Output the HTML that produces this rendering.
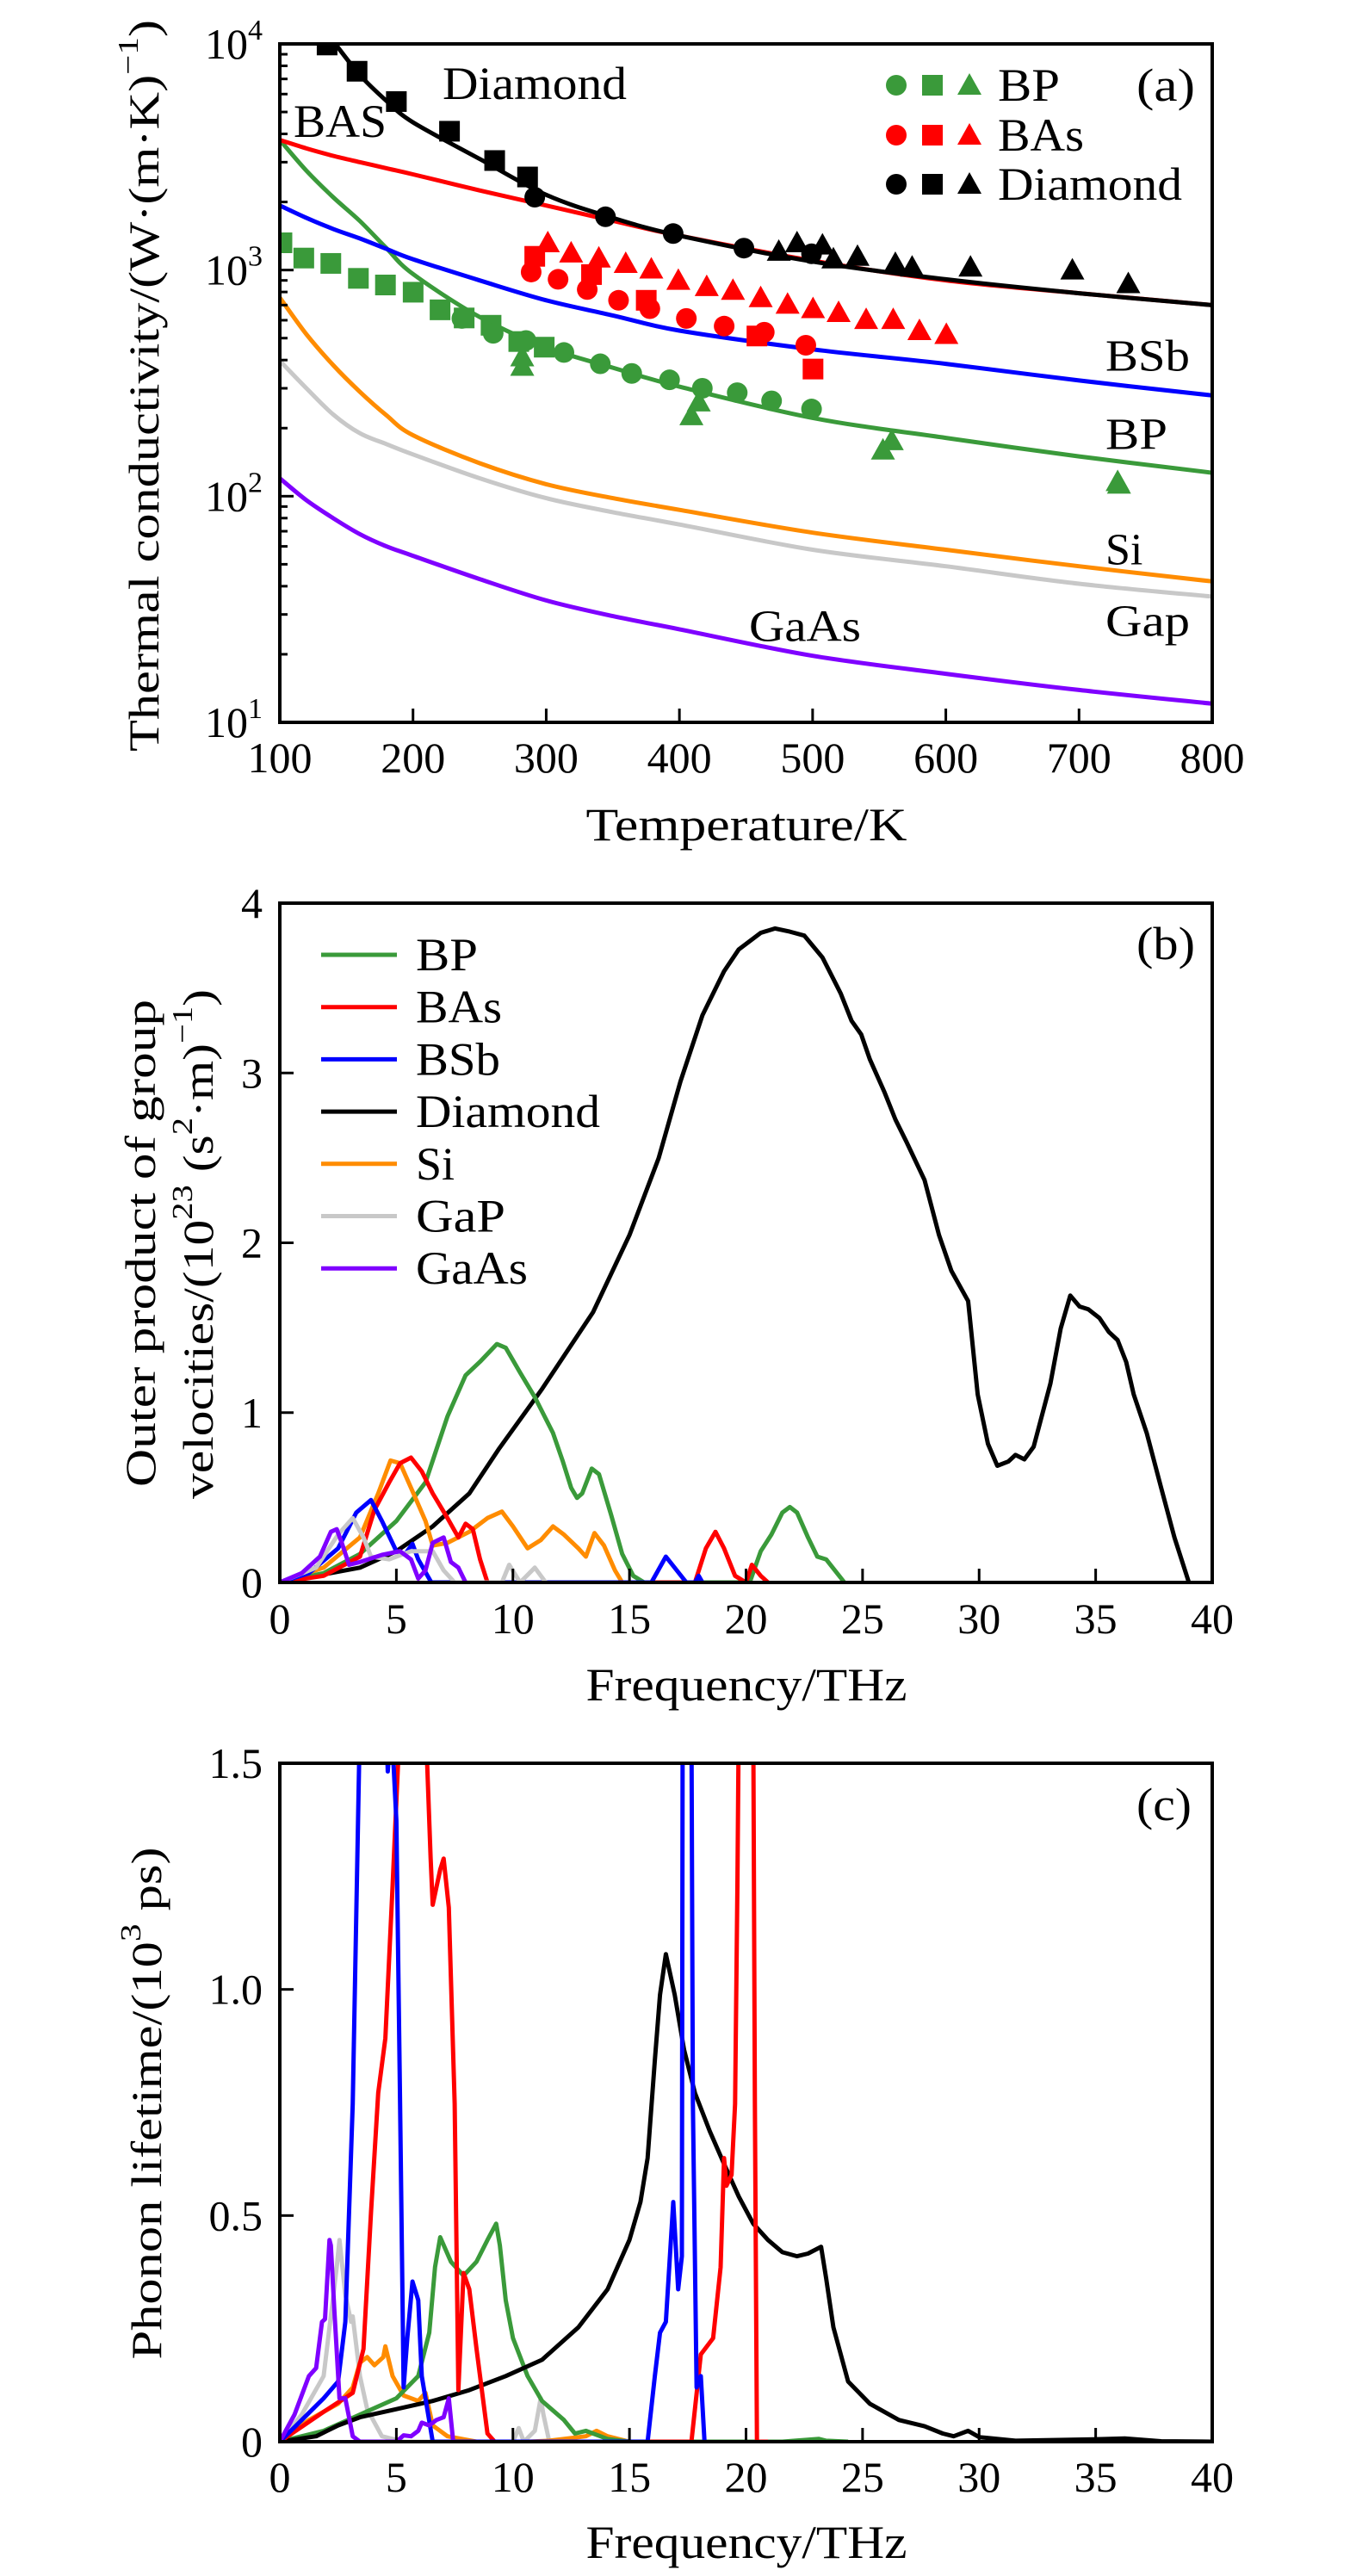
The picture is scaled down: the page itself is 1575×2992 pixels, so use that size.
<!DOCTYPE html>
<html><head><meta charset="utf-8"><title>Thermal conductivity chart</title>
<style>
html,body{margin:0;padding:0;background:#fff;}
svg{display:block;font-family:"Liberation Serif",serif;}
</style></head>
<body>
<svg id="fig" width="1575" height="2992" viewBox="0 0 1575 2992" xmlns="http://www.w3.org/2000/svg">
<defs>
<clipPath id="clipA"><rect x="325" y="51" width="1083" height="788"/></clipPath>
<clipPath id="clipB"><rect x="325" y="1049" width="1083" height="789"/></clipPath>
<clipPath id="clipC"><rect x="325" y="2048" width="1083" height="788"/></clipPath>
</defs>
<g id="gA"></g>
<g id="gB"></g>
<g id="gC"></g>
</svg>
<script>
// ---------- Panel (a) data ----------
const aCurveT = [100,120,140,160,180,200,250,300,350,400,500,600,700,800];
const aDiamondT = [140,160,180,200,250,300,350,400,500,600,700,800];
const aDiamondK = [10300,7300,5600,4500,3100,2150,1700,1420,1090,910,790,700];
const aBAsK = [3760,3450,3200,3000,2820,2650,2250,1930,1650,1420,1100,900,790,700];
const aBSbK = [1930,1700,1520,1380,1240,1116,900,735,630,540,446,385,325,279];
const aBPK = [3760,2750,2100,1650,1250,960,620,455,370,305,222,181,150,127];
const aSiK = [755,520,380,290,228,186,140,113,98,87,69,58,49,42];
const aGaPK = [397,300,230,190,170,153,120,98,85,75,58,49,41,36];
const aGaAsK = [120,96,80,68,60,54.5,43,34.6,29.5,25.8,19.7,16.4,13.9,12.1];
const aBPcircT = [236.7,260.2,284.8,313.3,340.6,364.2,392.6,417.2,443.4,469.2,499.2];
const aBPcircK = [611,525,488,432,385,349,327,300,287,264,243];
const aBPsqT = [101.6,118,138.3,159,179.3,200.1,220.3,238.4,258.6,279.4,298.5];
const aBPsqK = [1320,1130,1070,919,859,798,667,614,570,483,456];
const aBPtriT = [282,282,409,414.5,552.8,559.4,729,730];
const aBPtriK = [413,375,227,261,160,176,116,113];
const aBAscircT = [288.7,308.9,330.8,354.3,377.8,405.2,433.6,463.7,494.9];
const aBAscircK = [980,910,820,735,675,611,565,531,465];
const aBAssqT = [291.4,334,375.1,458.2,500.3];
const aBAssqK = [1150,955,735,511,365];
const aBAstriT = [301.2,318.7,339.5,359.7,378.9,399.2,420.5,440.2,461,481.2,500.3,519.5,540.2,560.5,580.2,600.4];
const aBAstriK = [1320,1190,1130,1070,1010,900,845,813,755,706,675,649,604,604,540,519];
const aDiacircT = [291.4,344.5,395.3,448.4,499.2];
const aDiacircK = [2100,1720,1450,1250,1180];
const aDiasqT = [135.5,158,187.5,227.4,261.3,286];
const aDiasqK = [9890,7570,5560,4110,3050,2580];
const aDiatriT = [474.6,488.3,507.4,515.6,533.7,562.1,574.7,618.5,695,737];
const aDiatriK = [1210,1320,1290,1120,1150,1070,1030,1030,1000,870];
const aXTicks = [100,200,300,400,500,600,700,800];
const aYExp = [1,2,3,4];

// ---------- Panel (b) data ----------
const bDiaF = [0,3.44,5,6.56,8.13,9.38,11.25,13.44,15,16.25,17.19,18.13,19.06,19.69,20.63,21.25,21.88,22.5,23.28,24.06,24.53,24.94,25.31,25.94,26.41,26.88,27.66,28.28,28.81,29.53,29.94,30.38,30.78,31.25,31.56,31.94,32.34,33.06,33.5,33.91,34.31,34.69,35.16,35.56,35.94,36.31,36.63,37.19,37.81,38.38,39];
const bDiaV = [0,0.087,0.184,0.33,0.524,0.783,1.139,1.592,2.045,2.498,2.951,3.34,3.599,3.728,3.825,3.851,3.832,3.809,3.68,3.469,3.307,3.227,3.081,2.887,2.725,2.595,2.369,2.045,1.835,1.657,1.107,0.816,0.687,0.712,0.751,0.725,0.799,1.172,1.495,1.689,1.625,1.608,1.557,1.476,1.427,1.298,1.107,0.88,0.557,0.265,0];
const bBPF = [0,1.88,3.44,5,6.25,6.72,7.19,7.97,8.59,9.31,9.69,10.31,10.94,11.72,12.13,12.5,12.75,12.97,13.38,13.69,14.22,14.69,15.16,15.63,20.16,20.63,21.09,21.56,21.88,22.19,22.66,23.06,23.44,24.22];
const bBPV = [0,0.055,0.168,0.362,0.589,0.783,0.977,1.22,1.3,1.404,1.382,1.236,1.091,0.88,0.718,0.557,0.498,0.524,0.67,0.638,0.395,0.168,0.039,0,0,0.184,0.282,0.411,0.444,0.411,0.265,0.152,0.136,0];
const bBAsF = [0,1.88,3.44,4.06,4.69,5.16,5.63,6.09,6.56,7.19,7.66,7.97,8.28,8.59,8.91,17.81,18.28,18.69,19.06,19.53,20,20.25,20.63,20.94];
const bBAsV = [0,0.039,0.152,0.427,0.589,0.702,0.735,0.654,0.524,0.379,0.265,0.346,0.314,0.136,0,0,0.201,0.298,0.201,0.039,0,0.104,0.039,0];
const bBSbF = [0,1.25,2.5,3.28,3.91,4.38,5,5.38,5.69,5.94,6.5,15.94,16.56,17.03,17.44,17.81,17.97,18.13];
const bBSbV = [0,0.055,0.201,0.411,0.485,0.362,0.184,0.168,0.227,0.136,0,0,0.152,0.071,0,0,0.039,0];
const bSiF = [0,1.88,3.44,4.22,4.75,5.16,5.63,6.25,6.56,7.19,8.13,8.91,9.53,10,10.63,11.19,11.72,12.19,12.81,13.13,13.5,13.91,14.38,14.69];
const bSiV = [0,0.087,0.265,0.524,0.718,0.702,0.557,0.362,0.217,0.233,0.298,0.379,0.417,0.33,0.201,0.249,0.33,0.282,0.201,0.152,0.291,0.217,0.071,0];
const bGaPF = [0,1.56,2.5,3.13,3.59,3.91,4.69,5.63,6.56,7.03,7.5,9.53,9.84,10.31,10.94,11.41];
const bGaPV = [0,0.087,0.282,0.379,0.265,0.152,0.136,0.184,0.184,0.071,0,0,0.104,0,0.087,0];
const bGaAsF = [0,0.94,1.72,2.19,2.44,2.66,2.97,3.44,4.38,5.16,5.63,5.94,6.25,6.56,7.03,7.34,7.66,7.97];
const bGaAsV = [0,0.055,0.152,0.298,0.314,0.233,0.104,0.12,0.162,0.184,0.136,0.023,0.071,0.233,0.265,0.12,0.087,0];
const bXTicks = [0,5,10,15,20,25,30,35,40];
const bYTicks = [0,1,2,3,4];

// ---------- Panel (c) data ----------
const cBSbF = [0,0.94,1.88,2.5,2.81,3.13,3.44,4.56,4.63,4.78,5,5.16,5.31,5.47,5.69,5.94,6.09,6.56,15.78,16.09,16.31,16.56,16.88,17.09,17.25,17.28,17.66,17.72,17.88,18.06,18.22];
const cBSbV = [0,0.048,0.096,0.133,0.265,0.747,1.6,1.6,1.482,1.6,1.373,0.747,0.12,0.229,0.354,0.313,0.145,0,0,0.145,0.241,0.265,0.53,0.337,0.41,1.6,1.6,0.747,0.12,0.145,0];
const cBAsF = [0,1.88,3.13,3.59,3.91,4.22,4.53,4.84,5.16,6.25,6.47,6.56,6.88,7.03,7.25,7.5,7.66,7.88,8.13,8.44,8.91,9.22,17.66,18.06,18.59,18.91,19.06,19.16,19.38,19.53,19.63,19.69,20.31,20.38,20.47,20.94];
const cBAsV = [0,0.066,0.108,0.205,0.506,0.771,0.892,1.229,1.6,1.6,1.289,1.187,1.265,1.289,1.181,0.747,0.114,0.373,0.337,0.205,0.018,0,0,0.193,0.229,0.386,0.627,0.566,0.59,0.747,1.229,1.6,1.6,0.747,0,0];
const cDiaF = [0,1.56,2.5,3.44,5,6.56,8.13,9.69,11.25,12.81,14.06,15,15.47,15.78,16.09,16.31,16.56,16.94,17.34,17.81,18.44,19.06,19.69,20.31,20.94,21.56,22.19,22.66,23.22,23.44,23.75,24.38,25.31,26.56,27.66,28.44,28.91,29.53,30,31.56,34.69,36.25,37.81,40];
const cDiaV = [0,0.012,0.036,0.054,0.072,0.09,0.114,0.145,0.181,0.253,0.337,0.446,0.53,0.627,0.843,0.988,1.078,0.988,0.867,0.771,0.687,0.614,0.542,0.482,0.446,0.419,0.41,0.416,0.431,0.361,0.253,0.133,0.084,0.048,0.034,0.018,0.012,0.024,0.01,0.002,0.005,0.007,0.001,0];
const cBPF = [0,1.88,3.44,5,5.94,6.41,6.66,6.88,7.34,7.88,8.44,8.91,9.28,9.44,9.69,10,10.63,11.25,12.19,12.66,13.13,14.06,15,21.56,23.13,23.44,24.38];
const cBPV = [0,0.024,0.06,0.096,0.145,0.241,0.386,0.452,0.398,0.367,0.398,0.446,0.482,0.434,0.313,0.229,0.145,0.09,0.048,0.018,0.024,0.006,0,0,0.006,0.002,0];
const cSiF = [0,1.25,2.5,3.13,3.44,3.75,4.06,4.44,4.53,4.84,5.31,5.94,6.25,6.56,7.19,8.44,10.63,11.56,13.13,13.59,14.06,15];
const cSiV = [0,0.048,0.084,0.12,0.175,0.187,0.169,0.187,0.211,0.145,0.102,0.09,0.108,0.036,0.012,0,0,0.002,0.012,0.024,0.012,0];
const cGaPF = [0,0.94,1.88,2.44,2.56,2.81,3.06,3.13,3.44,3.75,4.38,5.31,10,10.25,10.47,10.94,11.19,11.31,11.56];
const cGaPV = [0,0.06,0.145,0.386,0.446,0.325,0.265,0.277,0.145,0.072,0.012,0,0,0.03,0,0.024,0.096,0.06,0];
const cGaAsF = [0,0.63,1.25,1.56,1.81,1.94,2.13,2.19,2.34,2.56,2.81,3.13,3.44,5,5.31,5.63,5.94,6.09,6.41,6.72,7.03,7.25,7.44];
const cGaAsV = [0,0.06,0.145,0.163,0.265,0.271,0.446,0.434,0.289,0.096,0.096,0.012,0,0,0.014,0.012,0.024,0.042,0.036,0.048,0.054,0.096,0];
const cXTicks = [0,5,10,15,20,25,30,35,40];
const cYTicks = [0,0.5,1.0,1.5];
const cYLabels = ["0","0.5","1.0","1.5"];

const C = {BP:"#3a9a3a",BAs:"#ff0000",BSb:"#0000ff",Dia:"#000000",Si:"#ff8c00",GaP:"#c8c8c8",GaAs:"#7f00ff"};
const NS = "http://www.w3.org/2000/svg";
const L=325,R=1408;
function mk(tag, attrs, parent){const e=document.createElementNS(NS,tag);for(const k in attrs)e.setAttribute(k,attrs[k]);parent.appendChild(e);return e;}

const axA = {x:t=>L+(t-100)/700*(R-L), y:v=>839-(Math.log10(v)-1)/3*788};
const axB = {x:f=>L+f/40*(R-L), y:v=>1838-v/4*789};
const axC = {x:f=>L+f/40*(R-L), y:v=>2836-v/1.5*788};

function line(g, ax, xs, ys, color, name, clip, smooth){
  const P = xs.map((x,i)=>[ax.x(x), ax.y(ys[i])]);
  let d = "M"+P[0][0].toFixed(1)+" "+P[0][1].toFixed(1);
  for(let i=1;i<P.length;i++){
    if(smooth){
      const p0=P[Math.max(i-2,0)],p1=P[i-1],p2=P[i],p3=P[Math.min(i+1,P.length-1)];
      const c1=[p1[0]+(p2[0]-p0[0])/6,p1[1]+(p2[1]-p0[1])/6];
      const c2=[p2[0]-(p3[0]-p1[0])/6,p2[1]-(p3[1]-p1[1])/6];
      d+=` C${c1[0].toFixed(1)} ${c1[1].toFixed(1)} ${c2[0].toFixed(1)} ${c2[1].toFixed(1)} ${p2[0].toFixed(1)} ${p2[1].toFixed(1)}`;
    } else d+=" L"+P[i][0].toFixed(1)+" "+P[i][1].toFixed(1);
  }
  const p = mk("path",{d:d,fill:"none",stroke:color,"stroke-width":5,"stroke-linejoin":"round","clip-path":"url(#"+clip+")"},g);
  
  
}
function marker(g, shape, x, y, color, name){
  let e;
  if(shape==="c"){e=mk("ellipse",{cx:x,cy:y,rx:12,ry:12,fill:color},g);}
  else if(shape==="s"){e=mk("rect",{x:x-12,y:y-12,width:24,height:24,fill:color},g);}
  else {e=mk("polygon",{points:`${x},${y-14} ${x+14},${y+11} ${x-14},${y+11}`,fill:color},g);}
  
  
  return e;
}
function txt(g, x, y, s, size, anchor, name, tl){
  const attrs = {x:x,y:y,"font-size":size,"text-anchor":anchor||"start","dominant-baseline":"central",fill:"#000"};
  if(tl){attrs.textLength=tl; attrs.lengthAdjust="spacingAndGlyphs";}
  const t = mk("text",attrs,g);
  t.textContent = s;
  
  
  return t;
}
function frame(g, top, bot, name){
  const r = mk("rect",{x:L,y:top,width:R-L,height:bot-top,fill:"none",stroke:"#000","stroke-width":4},g);
  
  
}
function tick(g,x1,y1,x2,y2,name){
  const l = mk("line",{x1:x1,y1:y1,x2:x2,y2:y2,stroke:"#000","stroke-width":3},g);
  
  
}

// ===== Panel A =====
const gA = document.getElementById("gA");
line(gA, axA, aCurveT, aGaAsK, C.GaAs, "gaas-curve", "clipA", true);
line(gA, axA, aCurveT, aGaPK, C.GaP, "gap-curve", "clipA", true);
line(gA, axA, aCurveT, aSiK, C.Si, "si-curve", "clipA", true);
line(gA, axA, aCurveT, aBPK, C.BP, "bp-curve", "clipA", true);
line(gA, axA, aCurveT, aBSbK, C.BSb, "bsb-curve", "clipA", true);
line(gA, axA, aCurveT, aBAsK, C.BAs, "bas-curve", "clipA", true);
line(gA, axA, aDiamondT, aDiamondK, C.Dia, "diamond-curve", "clipA", true);
const mg = mk("g",{"clip-path":"url(#clipA)"},gA);


aBPsqT.forEach((t,i)=>marker(mg,"s",axA.x(t),axA.y(aBPsqK[i]),C.BP,"bp-square-point"));
aBPcircT.forEach((t,i)=>marker(mg,"c",axA.x(t),axA.y(aBPcircK[i]),C.BP,"bp-circle-point"));
aBPtriT.forEach((t,i)=>marker(mg,"t",axA.x(t),axA.y(aBPtriK[i]),C.BP,"bp-triangle-point"));
aBAscircT.forEach((t,i)=>marker(mg,"c",axA.x(t),axA.y(aBAscircK[i]),C.BAs,"bas-circle-point"));
aBAssqT.forEach((t,i)=>marker(mg,"s",axA.x(t),axA.y(aBAssqK[i]),C.BAs,"bas-square-point"));
aBAstriT.forEach((t,i)=>marker(mg,"t",axA.x(t),axA.y(aBAstriK[i]),C.BAs,"bas-triangle-point"));
aDiasqT.forEach((t,i)=>marker(mg,"s",axA.x(t),axA.y(aDiasqK[i]),C.Dia,"diamond-square-point"));
aDiacircT.forEach((t,i)=>marker(mg,"c",axA.x(t),axA.y(aDiacircK[i]),C.Dia,"diamond-circle-point"));
aDiatriT.forEach((t,i)=>marker(mg,"t",axA.x(t),axA.y(aDiatriK[i]),C.Dia,"diamond-triangle-point"));
frame(gA,51,839,"plot-frame-a");
for(let e=1;e<4;e++){for(let m=1;m<10;m++){const v=m*Math.pow(10,e);const y=axA.y(v);
  if(m===1){ if(e>1) tick(gA,L,y,L+16,y,"y-major-tick"); } else tick(gA,L,y,L+9,y,"y-minor-tick");}}
aYExp.forEach(e=>{const y=axA.y(Math.pow(10,e));
  const t=mk("text",{x:305,y:y+17,"font-size":50,"text-anchor":"end",fill:"#000"},gA);
  
  
  t.appendChild(document.createTextNode("10"));
  const s=mk("tspan",{"font-size":34,dy:-22},t); s.textContent=String(e);});
aXTicks.forEach(v=>{const x=axA.x(v); if(v>100&&v<800) tick(gA,x,839,x,823,"x-tick");
  txt(gA,x,880,String(v),50,"middle","x-tick-label");});
txt(gA,867,958,"Temperature/K",54,"middle","x-axis-title",373);
{const t=mk("text",{x:0,y:0,"font-size":50,"text-anchor":"middle","dominant-baseline":"central",transform:"translate(167,448) rotate(-90)",textLength:850,lengthAdjust:"spacingAndGlyphs"},gA);
 
 
 t.appendChild(document.createTextNode("Thermal conductivity/(W·(m·K)"));
 const s=mk("tspan",{"font-size":34,dy:-18},t); s.textContent="−1";
 const s2=mk("tspan",{dy:18},t); s2.textContent=")";}
txt(gA,514,97,"Diamond",54,"start","label-diamond",214);
txt(gA,341,141,"BAS",54,"start","label-bas",108);
txt(gA,1320,99,"(a)",54,"start","panel-label-a",68);
txt(gA,1284,414,"BSb",52,"start","label-bsb",98);
txt(gA,1284,505,"BP",52,"start","label-bp",72);
txt(gA,1284,639,"Si",52,"start","label-si");
txt(gA,1284,722,"Gap",52,"start","label-gap",98);
txt(gA,870,728,"GaAs",52,"start","label-gaas",130);
[["BP",C.BP,99,72],["BAs",C.BAs,157,100],["Diamond",C.Dia,214,214]].forEach(r=>{
  marker(gA,"c",1041,r[2],r[1],"legend-circle");
  marker(gA,"s",1083,r[2],r[1],"legend-square");
  marker(gA,"t",1126,r[2],r[1],"legend-triangle");
  txt(gA,1159,r[2],r[0],54,"start","legend-entry",r[3]);});

// ===== Panel B =====
const gB = document.getElementById("gB");
line(gB, axB, bDiaF, bDiaV, C.Dia, "diamond-curve", "clipB");
line(gB, axB, bBPF, bBPV, C.BP, "bp-curve", "clipB");
line(gB, axB, bSiF, bSiV, C.Si, "si-curve", "clipB");
line(gB, axB, bBAsF, bBAsV, C.BAs, "bas-curve", "clipB");
line(gB, axB, bBSbF, bBSbV, C.BSb, "bsb-curve", "clipB");
line(gB, axB, bGaPF, bGaPV, C.GaP, "gap-curve", "clipB");
line(gB, axB, bGaAsF, bGaAsV, C.GaAs, "gaas-curve", "clipB");
frame(gB,1049,1838,"plot-frame-b");
bYTicks.forEach(v=>{const y=axB.y(v); if(v>0&&v<4) tick(gB,L,y,L+16,y,"y-tick");
  txt(gB,305,y,String(v),50,"end","y-tick-label");});
bXTicks.forEach(v=>{const x=axB.x(v); if(v>0&&v<40) tick(gB,x,1838,x,1822,"x-tick");
  txt(gB,x,1880,String(v),50,"middle","x-tick-label");});
txt(gB,867,1957,"Frequency/THz",54,"middle","x-axis-title",373);
{const t=mk("text",{x:0,y:0,"font-size":50,"text-anchor":"middle","dominant-baseline":"central",transform:"translate(163,1444) rotate(-90)",textLength:566,lengthAdjust:"spacingAndGlyphs"},gB);
 
 
 t.textContent="Outer product of group";
 const t2=mk("text",{x:0,y:0,"font-size":50,"text-anchor":"middle","dominant-baseline":"central",transform:"translate(230,1445) rotate(-90)",textLength:592,lengthAdjust:"spacingAndGlyphs"},gB);
 
 
 t2.appendChild(document.createTextNode("velocities/(10"));
 let s=mk("tspan",{"font-size":34,dy:-18},t2); s.textContent="23";
 s=mk("tspan",{dy:18},t2); s.textContent=" (s";
 s=mk("tspan",{"font-size":34,dy:-18},t2); s.textContent="2";
 s=mk("tspan",{dy:18},t2); s.textContent="·m)";
 s=mk("tspan",{"font-size":34,dy:-18},t2); s.textContent="−1";
 s=mk("tspan",{dy:18},t2); s.textContent=")";}
txt(gB,1320,1096,"(b)",54,"start","panel-label-b",68);
[["BP",C.BP,72],["BAs",C.BAs,100],["BSb",C.BSb,98],["Diamond",C.Dia,214],["Si",C.Si,0],["GaP",C.GaP,104],["GaAs",C.GaAs,130]].forEach((r,i)=>{
  const y=1109+i*60.7;
  const l=mk("line",{x1:373,y1:y,x2:461,y2:y,stroke:r[1],"stroke-width":5},gB);
  
  
  txt(gB,483,y,r[0],54,"start","legend-entry",r[2]||null);});

// ===== Panel C =====
const gC = document.getElementById("gC");
line(gC, axC, cGaPF, cGaPV, C.GaP, "gap-curve", "clipC");
line(gC, axC, cSiF, cSiV, C.Si, "si-curve", "clipC");
line(gC, axC, cBPF, cBPV, C.BP, "bp-curve", "clipC");
line(gC, axC, cDiaF, cDiaV, C.Dia, "diamond-curve", "clipC");
line(gC, axC, cBAsF, cBAsV, C.BAs, "bas-curve", "clipC");
line(gC, axC, cBSbF, cBSbV, C.BSb, "bsb-curve", "clipC");
line(gC, axC, cGaAsF, cGaAsV, C.GaAs, "gaas-curve", "clipC");
frame(gC,2048,2836,"plot-frame-c");
cYTicks.forEach((v,i)=>{const y=axC.y(v); if(v>0&&v<1.5) tick(gC,L,y,L+16,y,"y-tick");
  txt(gC,305,y,cYLabels[i],50,"end","y-tick-label");});
cXTicks.forEach(v=>{const x=axC.x(v); if(v>0&&v<40) tick(gC,x,2836,x,2820,"x-tick");
  txt(gC,x,2877,String(v),50,"middle","x-tick-label");});
txt(gC,867,2953,"Frequency/THz",54,"middle","x-axis-title",373);
{const t=mk("text",{x:0,y:0,"font-size":50,"text-anchor":"middle","dominant-baseline":"central",transform:"translate(170,2443) rotate(-90)",textLength:595,lengthAdjust:"spacingAndGlyphs"},gC);
 
 
 t.appendChild(document.createTextNode("Phonon lifetime/(10"));
 let s=mk("tspan",{"font-size":34,dy:-18},t); s.textContent="3";
 s=mk("tspan",{dy:18},t); s.textContent=" ps)";}
txt(gC,1320,2096,"(c)",54,"start","panel-label-c",64);
</script>
</body></html>
